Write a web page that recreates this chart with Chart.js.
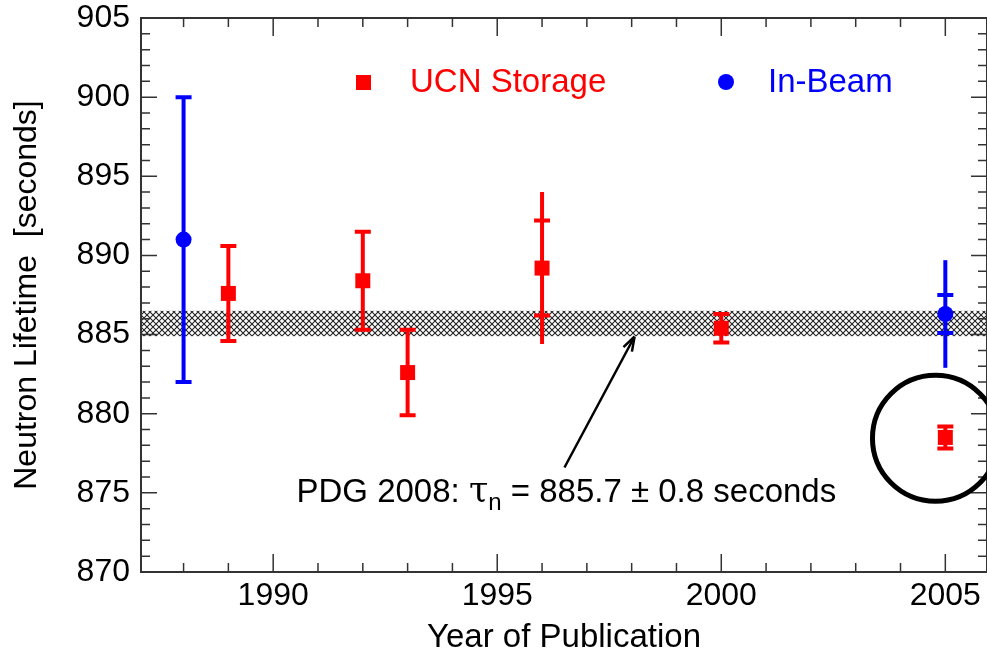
<!DOCTYPE html>
<html>
<head>
<meta charset="utf-8">
<script src="https://cdn.jsdelivr.net/npm/chart.js@4"></script>
<style>
  html, body { margin: 0; padding: 0; background: #fff; }
  #wrap { width: 987px; height: 655px; }
</style>
</head>
<body>
<div id="wrap"><canvas id="myChart" width="987" height="655"></canvas></div>
<script>
// Data
const ucnYears = [1989, 1992, 1993, 1996, 2000, 2005];
const ucnValues = [887.6, 888.4, 882.6, 889.2, 885.4, 878.5];
const ucnStatErr = [3.0, 3.1, 2.7, 3.0, 0.9, 0.7];
const ucnTotalErr = [3.0, 3.1, 2.7, 4.8, 0.9, 0.7];

const beamYears = [1988, 2005];
const beamValues = [891.0, 886.3];
const beamStatErr = [9.0, 1.2];
const beamTotalErr = [9.0, 3.4];

const pdgValue = 885.7;
const pdgErr = 0.8;

const xTicks = [1990, 1995, 2000, 2005];
const yTicks = [870, 875, 880, 885, 890, 895, 900, 905];

const FONT = '"Liberation Sans", Arial, Helvetica, sans-serif';
const RED = '#ff0000';
const BLUE = '#0000ff';

// hatch pattern for the PDG band
function makeHatch(ctx) {
    const c = document.createElement('canvas');
    c.width = 6; c.height = 6;
    const g = c.getContext('2d');
    g.strokeStyle = '#222';
    g.lineWidth = 1.1;
    g.beginPath();
    g.moveTo(0, 0); g.lineTo(6, 6);
    g.moveTo(6, 0); g.lineTo(0, 6);
    g.stroke();
    return ctx.createPattern(c, 'repeat');
}

function drawErrors(ctx, x, y, years, values, stat, total, color) {
    ctx.save();
    ctx.strokeStyle = color;
    ctx.lineWidth = 4;
    for (let i = 0; i < years.length; i++) {
        const px = x.getPixelForValue(years[i]);
        const top = y.getPixelForValue(values[i] + total[i]);
        const bot = y.getPixelForValue(values[i] - total[i]);
        ctx.beginPath();
        ctx.moveTo(px, top); ctx.lineTo(px, bot);
        ctx.stroke();
        const ct = y.getPixelForValue(values[i] + stat[i]);
        const cb = y.getPixelForValue(values[i] - stat[i]);
        ctx.beginPath();
        ctx.moveTo(px - 8, ct); ctx.lineTo(px + 8, ct);
        ctx.moveTo(px - 8, cb); ctx.lineTo(px + 8, cb);
        ctx.stroke();
    }
    ctx.restore();
}

const decorations = {
    id: 'decorations',
    beforeDatasetsDraw(chart) {
        const { ctx, chartArea: a, scales: { x, y } } = chart;
        // PDG band
        const yt = y.getPixelForValue(pdgValue + pdgErr);
        const yb = y.getPixelForValue(pdgValue - pdgErr);
        ctx.save();
        ctx.fillStyle = makeHatch(ctx);
        ctx.fillRect(a.left, yt, a.right - a.left, yb - yt);
        ctx.restore();

        drawErrors(ctx, x, y, beamYears, beamValues, beamStatErr, beamTotalErr, BLUE);
        drawErrors(ctx, x, y, ucnYears, ucnValues, ucnStatErr, ucnTotalErr, RED);
    },
    afterDraw(chart) {
        const { ctx, chartArea: a, scales: { x, y } } = chart;
        ctx.save();
        // frame
        ctx.strokeStyle = '#333';
        ctx.lineWidth = 2;
        ctx.strokeRect(a.left, a.top, a.right - a.left, a.bottom - a.top);
        // ticks, pointing inward
        ctx.lineWidth = 1.5;
        ctx.beginPath();
        for (let v = 871; v < 905; v++) {
            const py = y.getPixelForValue(v);
            const len = v % 5 === 0 ? 16 : 9;
            ctx.moveTo(a.left, py); ctx.lineTo(a.left + len, py);
            ctx.moveTo(a.right, py); ctx.lineTo(a.right - len, py);
        }
        for (let v = 1988; v <= 2005; v++) {
            const px = x.getPixelForValue(v);
            const len = v % 5 === 0 ? 18 : 9;
            ctx.moveTo(px, a.bottom); ctx.lineTo(px, a.bottom - len);
            ctx.moveTo(px, a.top); ctx.lineTo(px, a.top + len);
        }
        ctx.stroke();

        // legend
        ctx.fillStyle = RED;
        ctx.fillRect(356, 75, 15, 15);
        ctx.font = '33px ' + FONT;
        ctx.textBaseline = 'middle';
        ctx.textAlign = 'left';
        ctx.fillText('UCN Storage', 410, 83);
        ctx.fillStyle = BLUE;
        ctx.beginPath();
        ctx.arc(726, 82, 8, 0, Math.PI * 2);
        ctx.fill();
        ctx.fillText('In-Beam', 768, 83);

        // arrow to band
        const tipX = x.getPixelForValue(1998.05), tipY = y.getPixelForValue(884.8);
        const tailX = x.getPixelForValue(1996.5), tailY = y.getPixelForValue(876.6);
        ctx.strokeStyle = '#000';
        ctx.fillStyle = '#000';
        ctx.lineWidth = 2.5;
        ctx.beginPath();
        ctx.moveTo(tailX, tailY); ctx.lineTo(tipX, tipY);
        ctx.stroke();
        const ang = Math.atan2(tipY - tailY, tipX - tailX);
        ctx.beginPath();
        ctx.moveTo(tipX + 1.5 * Math.cos(ang), tipY + 1.5 * Math.sin(ang));
        ctx.lineTo(tipX - 14 * Math.cos(ang - 0.35), tipY - 14 * Math.sin(ang - 0.35));
        ctx.moveTo(tipX + 1.5 * Math.cos(ang), tipY + 1.5 * Math.sin(ang));
        ctx.lineTo(tipX - 14 * Math.cos(ang + 0.35), tipY - 14 * Math.sin(ang + 0.35));
        ctx.stroke();

        // PDG label
        let tx = x.getPixelForValue(1990.52);
        const ty = y.getPixelForValue(875.0);
        ctx.font = '33px ' + FONT;
        const s1 = 'PDG 2008: ';
        ctx.fillText(s1, tx, ty);
        tx += ctx.measureText(s1).width;
        ctx.font = '35px "DejaVu Serif", serif';
        ctx.fillText('\u03c4', tx, ty);
        tx += ctx.measureText('\u03c4').width;
        ctx.font = '24px ' + FONT;
        ctx.fillText('n', tx, ty + 11);
        tx += ctx.measureText('n').width;
        ctx.font = '33px ' + FONT;
        ctx.fillText(' = ' + pdgValue.toFixed(1) + ' \u00b1 ' + pdgErr.toFixed(1) + ' seconds', tx, ty);

        // circle around the 2005 storage point
        const cx = x.getPixelForValue(2004.78), cy = y.getPixelForValue(878.45);
        ctx.lineWidth = 5;
        ctx.beginPath();
        ctx.arc(cx, cy, 63, 0, Math.PI * 2);
        ctx.stroke();
        ctx.restore();
    }
};

const config = {
    type: 'scatter',
    data: {
        datasets: [{
            label: 'UCN Storage',
            data: ucnYears.map((yr, i) => ({ x: yr, y: ucnValues[i] })),
            backgroundColor: RED,
            borderWidth: 0,
            pointStyle: 'rect',
            pointRadius: 10.6,
            pointHoverRadius: 10.6
        }, {
            label: 'In-Beam',
            data: beamYears.map((yr, i) => ({ x: yr, y: beamValues[i] })),
            backgroundColor: BLUE,
            borderWidth: 0,
            pointStyle: 'circle',
            pointRadius: 8,
            pointHoverRadius: 8
        }]
    },
    options: {
        responsive: false,
        animation: false,
        events: [],
        layout: { autoPadding: false, padding: { top: 18, right: 0, left: 0, bottom: 0 } },
        plugins: {
            legend: { display: false },
            tooltip: { enabled: false }
        },
        scales: {
            x: {
                type: 'linear',
                min: 1987.05,
                max: 2005.93,
                grid: { display: false, drawTicks: false },
                border: { display: false },
                afterBuildTicks: (s) => { s.ticks = xTicks.map(v => ({ value: v })); },
                afterFit: (s) => { s.height = 83; s.paddingLeft = 0; s.paddingRight = 0; },
                ticks: {
                    color: '#000',
                    padding: 5,
                    maxRotation: 0,
                    font: { family: FONT, size: 32 },
                    callback: (v) => String(v)
                },
                title: {
                    display: true,
                    text: 'Year of Publication',
                    color: '#000',
                    padding: { top: 0, bottom: -3 },
                    font: { family: FONT, size: 33 }
                }
            },
            y: {
                min: 870,
                max: 905,
                grid: { display: false, drawTicks: false },
                border: { display: false },
                afterBuildTicks: (s) => { s.ticks = yTicks.map(v => ({ value: v })); },
                afterFit: (s) => { s.width = 141; s.paddingTop = 0; s.paddingBottom = 0; },
                ticks: {
                    color: '#000',
                    padding: 11,
                    font: { family: FONT, size: 32 },
                    callback: (v) => String(v)
                },
                title: {
                    display: true,
                    text: 'Neutron Lifetime  [seconds]',
                    color: '#000',
                    padding: { top: 8, bottom: 0 },
                    font: { family: FONT, size: 32 }
                }
            }
        }
    },
    plugins: [decorations]
};

const neutronChart = new Chart(document.getElementById('myChart'), config);
</script>
</body>
</html>
